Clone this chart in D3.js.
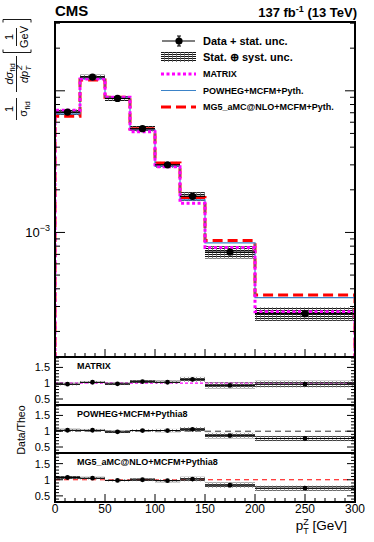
<!DOCTYPE html>
<html><head><meta charset="utf-8">
<script src="https://cdn.jsdelivr.net/npm/d3@7"></script>
<style>body{margin:0;background:#fff} svg{display:block} text{font-family:"Liberation Sans",Arial,Helvetica,sans-serif}</style>
</head><body><svg id="c" width="374" height="542"></svg>
<script>
const binEdges=[0,25,50,75,100,125,150,200,300];
const dataVals=[7.08e-3,1.249e-2,8.83e-3,5.40e-3,3.00e-3,1.80e-3,7.27e-4,2.67e-4];
const statUnc=[0.02,0.015,0.02,0.02,0.025,0.03,0.04,0.05];
const totUnc=[0.045,0.04,0.04,0.045,0.05,0.07,0.10,0.11];
const matrixVals=[7.30e-3,1.213e-2,9.01e-3,5.14e-3,2.91e-3,1.607e-3,7.82e-4,2.75e-4];
const powhegVals=[6.87e-3,1.213e-2,9.01e-3,5.29e-3,2.94e-3,1.70e-3,8.45e-4,3.47e-4];
const mg5Vals=[6.62e-3,1.190e-2,9.01e-3,5.40e-3,3.09e-3,1.765e-3,8.76e-4,3.61e-4];
const xTicks=[0,50,100,150,200,250,300];
const ratioTicks=[0.5,1,1.5];
const legendLabels=["Data + stat. unc.","Stat. \u2295 syst. unc.","MATRIX","POWHEG+MCFM+Pyth.","MG5_aMC@NLO+MCFM+Pyth."];
const ratioTitles=["MATRIX","POWHEG+MCFM+Pythia8","MG5_aMC@NLO+MCFM+Pythia8"];

const svg=d3.select("#c");
const X0=55,X1=355,MT=22,MB=357;
const x=d3.scaleLinear([0,300],[X0,X1]);
const y=d3.scaleLog([1.32e-4,3.06e-2],[MB,MT]);
const bins=d3.range(dataVals.length).map(i=>({lo:binEdges[i],hi:binEdges[i+1],c:(binEdges[i]+binEdges[i+1])/2,v:dataVals[i],s:statUnc[i],t:totUnc[i]}));

const defs=svg.append("defs");
const pat=defs.append("pattern").attr("id","hatch").attr("width",4).attr("height",2).attr("patternUnits","userSpaceOnUse");
pat.append("rect").attr("width",4).attr("height",2).attr("fill","#fff").attr("fill-opacity",0.35);
pat.append("path").attr("d","M0,0.5H4").attr("stroke","#111").attr("stroke-width",1);
pat.append("path").attr("d","M0.5,0V2").attr("stroke","#666").attr("stroke-width",0.8);
defs.append("clipPath").attr("id","clipMain").append("rect").attr("x",X0).attr("y",MT).attr("width",X1-X0).attr("height",MB-MT);

const black="#000";
const styles={
  mg5:{stroke:"#ff0000",w:3,dash:"10,5"},
  powheg:{stroke:"#3b83c8",w:1.2,dash:null},
  matrix:{stroke:"#ff00ff",w:3,dash:"3,2.5"}
};
function stepPath(vals,sc,bottom){
  let p="M"+x(binEdges[0])+","+bottom;
  vals.forEach((v,i)=>{p+="V"+sc(v)+"H"+x(binEdges[i+1]);});
  p+="V"+bottom;
  return p;
}

// ---------- main panel ----------
const gm=svg.append("g").attr("clip-path","url(#clipMain)");
gm.selectAll("rect.band").data(bins).join("rect").attr("class","band")
  .attr("x",d=>x(d.lo)).attr("width",d=>x(d.hi)-x(d.lo))
  .attr("y",d=>y(d.v*(1+d.t))).attr("height",d=>y(d.v*(1-d.t))-y(d.v*(1+d.t)))
  .attr("fill","url(#hatch)");
[["mg5",mg5Vals],["powheg",powhegVals],["matrix",matrixVals]].forEach(([k,vals])=>{
  const s=styles[k];
  gm.append("path").attr("d",stepPath(vals,y,MB+5)).attr("fill","none").attr("stroke",s.stroke)
    .attr("stroke-width",s.w).attr("stroke-dasharray",s.dash);
});
gm.selectAll("line.xe").data(bins).join("line").attr("x1",d=>x(d.lo)).attr("x2",d=>x(d.hi))
  .attr("y1",d=>y(d.v)).attr("y2",d=>y(d.v)).attr("stroke",black).attr("stroke-width",1.2);
gm.selectAll("line.ye").data(bins).join("line").attr("x1",d=>x(d.c)).attr("x2",d=>x(d.c))
  .attr("y1",d=>y(d.v*(1+d.s))).attr("y2",d=>y(d.v*(1-d.s))).attr("stroke",black).attr("stroke-width",1.2);
gm.selectAll("circle").data(bins).join("circle").attr("cx",d=>x(d.c)).attr("cy",d=>y(d.v)).attr("r",3.6).attr("fill",black);

// main ticks
const logTicks=[];
[1e-4,1e-3,1e-2].forEach(dec=>{for(let k=1;k<10;k++){const v=k*dec;if(v>=y.domain()[0]&&v<=y.domain()[1])logTicks.push({v,major:k===1});}});
const tk=svg.append("g").attr("stroke",black).attr("stroke-width",1);
logTicks.forEach(t=>{
  const L=t.major?10:5;
  tk.append("line").attr("x1",X0).attr("x2",X0+L).attr("y1",y(t.v)).attr("y2",y(t.v));
  tk.append("line").attr("x1",X1).attr("x2",X1-L).attr("y1",y(t.v)).attr("y2",y(t.v));
});
function xTickMarks(yb,g){
  d3.range(0,301,10).forEach(v=>{
    const L=v%50===0?8:4;
    g.append("line").attr("x1",x(v)).attr("x2",x(v)).attr("y1",yb).attr("y2",yb-L);
  });
}
xTickMarks(MB,tk);
// 10^-3 label
const lab=svg.append("text").attr("x",50).attr("y",y(1e-3)+5).attr("text-anchor","end").attr("font-size",13);
lab.append("tspan").text("10");
lab.append("tspan").attr("dy",-6).attr("font-size",9).text("\u22123");
svg.append("rect").attr("x",X0).attr("y",MT).attr("width",X1-X0).attr("height",MB-MT).attr("fill","none").attr("stroke",black).attr("stroke-width",2);

// ---------- ratio panels ----------
const panelTops=[357,405,453];
const panelH=[48,48,49];
const theoSets=[["matrix",matrixVals],["powheg",powhegVals],["mg5",mg5Vals]];
const refStyles=[{c:"#ff00ff",d:"3,2",w:1.2},{c:"#333",d:"6,4",w:1},{c:"#ff0000",d:"5,4",w:1.2}];
panelTops.forEach((top,pi)=>{
  const h=panelH[pi];
  const ry=d3.scaleLinear([0.31,1.83],[top+h,top]);
  const vals=theoSets[pi][1];
  const rb=bins.map((d,i)=>Object.assign({},d,{r:d.v/vals[i]}));
  const g=svg.append("g");
  g.append("line").attr("x1",X0).attr("x2",X1).attr("y1",ry(1)).attr("y2",ry(1))
    .attr("stroke",refStyles[pi].c).attr("stroke-width",refStyles[pi].w).attr("stroke-dasharray",refStyles[pi].d);
  g.selectAll("rect").data(rb).join("rect").attr("x",d=>x(d.lo)).attr("width",d=>x(d.hi)-x(d.lo))
    .attr("y",d=>ry(d.r*(1+d.t))).attr("height",d=>ry(d.r*(1-d.t))-ry(d.r*(1+d.t))).attr("fill","url(#hatch)").attr("opacity",0.8);
  g.selectAll("line.xe").data(rb).join("line").attr("class","xe").attr("x1",d=>x(d.lo)).attr("x2",d=>x(d.hi))
    .attr("y1",d=>ry(d.r)).attr("y2",d=>ry(d.r)).attr("stroke",black).attr("stroke-width",1);
  g.selectAll("line.ye").data(rb).join("line").attr("class","ye").attr("x1",d=>x(d.c)).attr("x2",d=>x(d.c))
    .attr("y1",d=>ry(d.r*(1+d.s))).attr("y2",d=>ry(d.r*(1-d.s))).attr("stroke",black).attr("stroke-width",1);
  g.selectAll("circle").data(rb).join("circle").attr("cx",d=>x(d.c)).attr("cy",d=>ry(d.r)).attr("r",2.4).attr("fill",black);
  // ticks
  const tg=svg.append("g").attr("stroke",black).attr("stroke-width",1);
  d3.range(4,19).map(k=>k/10).forEach(v=>{
    const major=Math.abs(v*2-Math.round(v*2))<1e-6;
    const L=major?8:4;
    tg.append("line").attr("x1",X0).attr("x2",X0+L).attr("y1",ry(v)).attr("y2",ry(v));
    tg.append("line").attr("x1",X1).attr("x2",X1-L).attr("y1",ry(v)).attr("y2",ry(v));
  });
  if(pi===2) xTickMarks(top+h,tg);
  svg.append("g").selectAll("text").data(ratioTicks).join("text").attr("x",50).attr("y",d=>ry(d)+4)
    .attr("text-anchor","end").attr("font-size",11).text(d=>d);
  svg.append("text").attr("x",77).attr("y",top+12).attr("font-size",9).attr("font-weight","bold").text(ratioTitles[pi]);
  svg.append("rect").attr("x",X0).attr("y",top).attr("width",X1-X0).attr("height",h).attr("fill","none").attr("stroke",black).attr("stroke-width",2);
});

// x tick labels & title
svg.append("g").selectAll("text").data(xTicks).join("text").attr("x",d=>x(d)).attr("y",513)
  .attr("text-anchor","middle").attr("font-size",12).text(d=>d);
const xt=svg.append("text").attr("x",347).attr("y",530).attr("text-anchor","end").attr("font-size",13.5);
xt.append("tspan").text("p");
xt.append("tspan").attr("dy",3.5).attr("font-size",9).text("T");
xt.append("tspan").attr("dx",-5.5).attr("dy",-9).attr("font-size",9).text("Z");
xt.append("tspan").attr("dy",5.5).text(" [GeV]");

// ratio y title
svg.append("text").attr("transform","translate(25,430) rotate(-90)").attr("text-anchor","middle").attr("font-size",10.5).text("Data/Theo");

// main y title (rotated fractions)
function rtext(bx,cy,fs){return svg.append("text").attr("transform",`translate(${bx},${cy}) rotate(-90)`).attr("text-anchor","middle").attr("font-size",fs);}
function vbar(xp,y1,y2){svg.append("line").attr("x1",xp).attr("x2",xp).attr("y1",y1).attr("y2",y2).attr("stroke",black).attr("stroke-width",0.9);}
rtext(12.5,109,11).text("1");
vbar(16.5,98,120);
let t=rtext(27,109,11); t.append("tspan").text("\u03c3"); t.append("tspan").attr("dy",2.5).attr("font-size",8).text("fid");
t=rtext(12.5,74,11); t.append("tspan").attr("font-style","italic").text("d\u03c3"); t.append("tspan").attr("dy",2.5).attr("font-size",8).text("fid");
vbar(16.5,56,92);
t=rtext(28,74,11); t.append("tspan").attr("font-style","italic").text("dp");
t.append("tspan").attr("dy",3).attr("font-size",8).attr("font-style","italic").text("T");
t.append("tspan").attr("dx",-4).attr("dy",-9).attr("font-size",8).attr("font-style","italic").text("Z");
rtext(12.5,37,11).text("1");
vbar(16.5,28,46);
rtext(28,37,11).text("GeV");
svg.append("path").attr("d","M3,49.5V52.5H31V49.5").attr("fill","none").attr("stroke",black).attr("stroke-width",0.9);
svg.append("path").attr("d","M3,22.5V19.5H31V22.5").attr("fill","none").attr("stroke",black).attr("stroke-width",0.9);

// header
svg.append("text").attr("x",55).attr("y",16).attr("font-size",15).attr("font-weight","bold").text("CMS");
const lumi=svg.append("text").attr("x",357).attr("y",17).attr("text-anchor","end").attr("font-size",13).attr("font-weight","bold");
lumi.append("tspan").text("137 fb");
lumi.append("tspan").attr("dy",-5).attr("font-size",9).text("-1");
lumi.append("tspan").attr("dy",5).text(" (13 TeV)");

// legend
const lg=svg.append("g");
const ly=[41,57,74,90.5,107];
lg.append("line").attr("x1",162).attr("x2",195).attr("y1",ly[0]).attr("y2",ly[0]).attr("stroke",black).attr("stroke-width",1.2);
lg.append("line").attr("x1",179).attr("x2",179).attr("y1",ly[0]-5).attr("y2",ly[0]+5).attr("stroke",black).attr("stroke-width",1.2);
lg.append("line").attr("x1",177).attr("x2",181).attr("y1",ly[0]-5).attr("y2",ly[0]-5).attr("stroke",black);
lg.append("line").attr("x1",177).attr("x2",181).attr("y1",ly[0]+5).attr("y2",ly[0]+5).attr("stroke",black);
lg.append("circle").attr("cx",179).attr("cy",ly[0]).attr("r",3.6).attr("fill",black);
lg.append("rect").attr("x",161).attr("y",ly[1]-5).attr("width",35).attr("height",10).attr("fill","url(#hatch)");
[["matrix",2],["powheg",3],["mg5",4]].forEach(([k,i])=>{
  const s=styles[k];
  lg.append("line").attr("x1",161).attr("x2",196).attr("y1",ly[i]).attr("y2",ly[i]).attr("stroke",s.stroke)
    .attr("stroke-width",s.w).attr("stroke-dasharray",s.dash);
});
legendLabels.forEach((l,i)=>{
  lg.append("text").attr("x",203).attr("y",ly[i]+(i<2?4:3.3)).attr("font-size",i<2?11:9).attr("font-weight","bold").text(l);
});
</script></body></html>
